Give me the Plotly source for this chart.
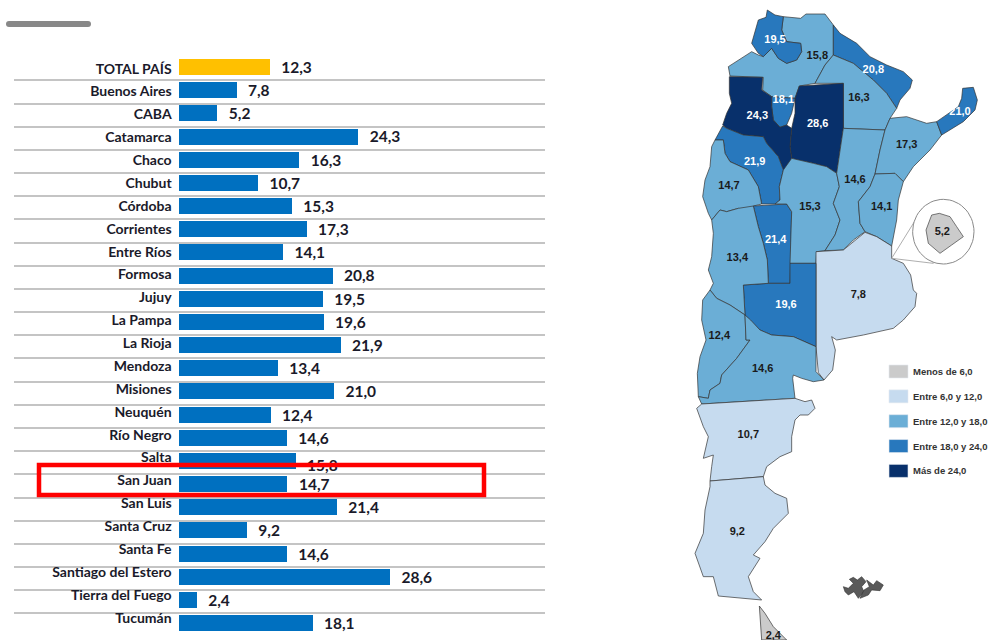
import math
import plotly.graph_objects as go

# ---------- chart data ----------
provinces = ["TOTAL PAÍS", "Buenos Aires", "CABA", "Catamarca", "Chaco", "Chubut", "Córdoba",
             "Corrientes", "Entre Ríos", "Formosa", "Jujuy", "La Pampa", "La Rioja", "Mendoza",
             "Misiones", "Neuquén", "Río Negro", "Salta", "San Juan", "San Luis", "Santa Cruz",
             "Santa Fe", "Santiago del Estero", "Tierra del Fuego", "Tucumán"]
values = [12.3, 7.8, 5.2, 24.3, 16.3, 10.7, 15.3, 17.3, 14.1, 20.8, 19.5, 19.6, 21.9, 13.4,
          21.0, 12.4, 14.6, 15.8, 14.7, 21.4, 9.2, 14.6, 28.6, 2.4, 18.1]
value_nudge = {"Salta": 0.2}

C_TOTAL, C_BAR = "#FFC000", "#0070C0"
C_GREY, C_PALE, C_LIGHT, C_MID, C_DARK = "#CBCBCB", "#C6DBEF", "#6BAED6", "#2878BD", "#08306B"

legend_labels = ["Menos de 6,0", "Entre 6,0 y 12,0", "Entre 12,0 y 18,0", "Entre 18,0 y 24,0", "Más de 24,0"]
legend_colors = [C_GREY, C_PALE, C_LIGHT, C_MID, C_DARK]

# ---------- map outlines (map space, scaled 3x from the canvas) ----------
map_shapes = {
    "Salta": [(310,50),(362,55),(378,42),(435,42),(460,75),(460,165),(435,195),(405,250),(358,258),(345,295),(275,290),(248,270),(250,232),(190,230),(150,228),(145,200),(215,155),(235,165),(250,170),(275,145),(295,175),(320,190),(350,180),(365,155),(362,130),(320,125),(305,90)],
    "Jujuy": [(262,30),(285,45),(310,50),(305,90),(320,125),(362,130),(365,155),(350,180),(320,190),(295,175),(275,145),(250,170),(235,160),(215,130),(235,60),(258,52)],
    "Formosa": [(460,75),(480,100),(530,130),(570,170),(620,195),(670,215),(697,240),(690,265),(660,300),(650,325),(620,280),(580,240),(520,190),(460,165)],
    "Chaco": [(460,165),(520,190),(580,240),(620,280),(650,325),(630,355),(615,390),(490,385),(490,250),(405,250),(435,195)],
    "Santiago del Estero": [(358,258),(490,250),(490,385),(470,520),(440,500),(400,490),(350,480),(335,475),(330,440),(335,385),(345,340),(345,295)],
    "Tucumán": [(275,290),(345,295),(335,340),(320,375),(300,382),(280,360),(275,320)],
    "Catamarca": [(148,230),(248,232),(245,270),(275,290),(275,320),(280,360),(300,382),(320,375),(335,385),(330,440),(335,475),(325,505),(310,510),(295,470),(260,430),(250,410),(190,405),(140,385),(128,375),(140,340),(155,310),(148,280)],
    "La Rioja": [(128,378),(140,385),(190,405),(250,410),(260,430),(295,470),(310,510),(298,560),(300,600),(285,612),(245,612),(235,560),(205,510),(150,485),(135,460),(130,420),(105,420)],
    "San Juan": [(105,420),(130,420),(135,460),(150,485),(205,510),(235,560),(245,612),(220,618),(215,630),(175,625),(140,635),(120,630),(95,660),(85,640),(68,590),(75,540),(90,500),(95,440)],
    "San Luis": [(220,618),(320,612),(335,635),(330,790),(330,850),(265,850),(262,780),(250,730),(235,680)],
    "Córdoba": [(310,510),(335,475),(400,490),(440,500),(470,520),(478,560),(460,610),(480,660),(465,705),(435,752),(410,755),(408,790),(330,790),(335,635),(320,612),(285,612),(300,600),(298,560)],
    "Santa Fe": [(490,385),(615,390),(600,450),(585,522),(570,560),(535,605),(540,670),(555,695),(520,720),(490,750),(435,752),(465,705),(480,660),(460,610),(478,560),(470,520)],
    "Corrientes": [(630,355),(680,350),(740,370),(770,365),(785,405),(750,450),(700,500),(670,545),(645,520),(585,522),(600,450),(615,390)],
    "Misiones": [(848,265),(880,262),(892,300),(885,330),(850,365),(785,405),(770,365),(805,340),(835,320),(845,295)],
    "Entre Ríos": [(585,522),(645,520),(670,545),(655,600),(650,660),(635,738),(590,710),(555,695),(540,670),(535,605),(570,560)],
    "Buenos Aires": [(408,755),(490,750),(555,697),(590,710),(635,738),(635,775),(670,790),(692,825),(700,870),(710,880),(705,920),(670,960),(640,985),(550,1005),(470,1020),(455,1010),(466,1050),(458,1110),(432,1140),(415,1118),(408,1040)],
    "La Pampa": [(190,855),(265,850),(330,850),(330,790),(408,790),(408,1040),(340,1010),(275,1005),(240,990),(212,960),(195,945)],
    "Mendoza": [(95,660),(120,630),(140,635),(175,625),(220,618),(235,680),(250,730),(262,780),(265,850),(190,855),(195,945),(150,915),(110,895),(90,870),(100,850),(85,810),(95,770),(100,700)],
    "Neuquén": [(90,870),(110,895),(150,915),(195,945),(198,1020),(210,1020),(170,1075),(125,1125),(120,1150),(90,1170),(85,1195),(55,1190),(52,1120),(60,1070),(78,1020),(65,960),(68,900)],
    "Río Negro": [(195,945),(212,960),(240,990),(275,1005),(340,1010),(408,1040),(408,1115),(432,1140),(400,1145),(365,1135),(340,1125),(338,1135),(345,1195),(65,1212),(55,1190),(85,1195),(90,1170),(120,1150),(125,1125),(170,1075),(210,1020),(198,1020)],
    "Chubut": [(65,1212),(345,1195),(375,1205),(395,1200),(405,1225),(385,1245),(360,1245),(345,1260),(335,1310),(335,1355),(300,1370),(260,1400),(250,1430),(90,1443),(95,1400),(100,1365),(70,1375),(85,1310),(70,1280),(60,1250),(50,1225)],
    "Santa Cruz": [(90,1443),(250,1430),(255,1455),(285,1480),(320,1495),(325,1540),(280,1585),(255,1625),(220,1665),(240,1675),(205,1730),(220,1775),(245,1800),(115,1788),(100,1730),(70,1730),(45,1660),(70,1600),(75,1530),(90,1460)],
    "Tierra del Fuego": [(238,1818),(255,1840),(280,1880),(320,1920),(245,1920),(240,1860)],
}
province_color = {
    "Salta": C_LIGHT, "Jujuy": C_MID, "Formosa": C_MID, "Chaco": C_LIGHT, "Santiago del Estero": C_DARK,
    "Tucumán": C_MID, "Catamarca": C_DARK, "La Rioja": C_MID, "San Juan": C_LIGHT, "San Luis": C_MID,
    "Córdoba": C_LIGHT, "Santa Fe": C_LIGHT, "Corrientes": C_LIGHT, "Misiones": C_MID, "Entre Ríos": C_LIGHT,
    "Buenos Aires": C_PALE, "La Pampa": C_MID, "Mendoza": C_LIGHT, "Neuquén": C_LIGHT, "Río Negro": C_LIGHT,
    "Chubut": C_PALE, "Santa Cruz": C_PALE, "Tierra del Fuego": C_GREY,
}
caba_outline = [(778,640),(810,650),(830,680),(850,710),(815,735),(780,760),(745,730),(738,690),(755,645)]
inset_wedge = [(728,625),(635,775),(760,790)]
malvinas_west = [(490,1760),(505,1765),(520,1750),(508,1738),(520,1732),(532,1740),(545,1730),(558,1745),(545,1760),(552,1775),(535,1795),(522,1775),(505,1785),(495,1775)]
malvinas_east = [(560,1740),(580,1755),(590,1742),(610,1755),(600,1772),(575,1770),(565,1785),(540,1795),(552,1770),(568,1760)]

map_labels = [("19,5",285,120,"w"),("15,8",412,170,"k"),("20,8",580,210,"w"),("18,1",310,302,"w"),("16,3",537,295,"k"),
              ("21,0",840,338,"w"),("24,3",232,350,"w"),("28,6",413,373,"w"),("17,3",680,437,"k"),("21,9",224,487,"w"),
              ("14,7",147,560,"k"),("14,6",525,542,"k"),("15,3",390,623,"k"),("14,1",605,623,"k"),("5,2",787,698,"k"),
              ("21,4",287,720,"w"),("13,4",172,775,"k"),("7,8",535,887,"k"),("19,6",318,915,"w"),("12,4",118,1010,"k"),
              ("14,6",248,1107,"k"),("10,7",205,1305,"k"),("9,2",172,1597,"k"),("2,4",280,1908,"k")]

# ---------- canvas geometry ----------
W, H = 992, 640
PX_PER_UNIT = 7.38
BAR_X0, GRID_L, GRID_R = 179, 14, 545
ROW0, ROW_STEP = 67.0, 23.17
LBL0, LBL_STEP = 70.0, 22.875
VALUE_GAP = 1.55

def to_canvas(pts):
    xs = [680 + p[0] / 3 for p in pts]
    ys = [p[1] / 3 for p in pts]
    return xs + xs[:1], ys + ys[:1]

fig = go.Figure()

# Bars on their own value axis
n = len(provinces)
fig.add_trace(go.Bar(
    y=list(range(n)), x=values, orientation="h", width=16 / ROW_STEP,
    marker=dict(color=[C_TOTAL] + [C_BAR] * (n - 1), line=dict(width=0)),
    hoverinfo="skip", showlegend=False))

# Value labels
fig.add_trace(go.Scatter(
    x=[v + VALUE_GAP for v in values], y=[i + 0.09 + value_nudge.get(p, 0) for i, p in enumerate(provinces)], mode="text",
    text=[f"{v:.1f}".replace(".", ",") for v in values], textposition="middle right",
    textfont=dict(family="Lato", size=15.5, color="#1A1A2A", weight=700),
    hoverinfo="skip", showlegend=False, cliponaxis=False))

# Category labels, on a slightly tighter axis than the bars
fig.add_trace(go.Scatter(
    x=[-1.0] * n, y=list(range(n)), yaxis="y3", mode="text", text=provinces,
    textposition="middle left",
    textfont=dict(family="Lato", size=14, color="#1A1A2A", weight=700),
    hoverinfo="skip", showlegend=False, cliponaxis=False))

def poly(pts, fill, line="#333333", lw=0.7):
    xs, ys = to_canvas(pts)
    fig.add_trace(go.Scatter(x=xs, y=ys, xaxis="x2", yaxis="y2", mode="lines", fill="toself",
                             fillcolor=fill, line=dict(color=line, width=lw),
                             hoverinfo="skip", showlegend=False))

for name, pts in map_shapes.items():
    poly(pts, province_color[name])

# CABA inset
poly(inset_wedge, "#FFFFFF", "#999999", 0.8)
inset_circle = [(790 + 92 * math.cos(math.radians(a)), 695 + 97 * math.sin(math.radians(a))) for a in range(0, 360, 6)]
poly(inset_circle, "#FFFFFF", "#8A8A8A", 1)
poly(caba_outline, C_GREY, "#444444", 0.7)

poly(malvinas_west, "#5A5A5A", "#333333", 0.6)
poly(malvinas_east, "#5A5A5A", "#333333", 0.6)

# Map labels
for col, tone in (("#FFFFFF", "w"), ("#1A1A1A", "k")):
    sel = [m for m in map_labels if m[3] == tone]
    fig.add_trace(go.Scatter(
        x=[680 + m[1] / 3 for m in sel], y=[m[2] / 3 for m in sel], xaxis="x2", yaxis="y2",
        mode="text", text=[m[0] for m in sel], textposition="middle center",
        textfont=dict(family="Liberation Sans", size=11, color=col, weight=700),
        hoverinfo="skip", showlegend=False, cliponaxis=True))

# Map legend
for i, (lab, col) in enumerate(zip(legend_labels, legend_colors)):
    yc = 371.5 + i * 24.85
    fig.add_shape(type="rect", xref="x2", yref="y2", x0=889, x1=908, y0=yc-6.5, y1=yc+6.5,
                  fillcolor=col, line=dict(color="#E4E9F0", width=0.6), layer="above")
    fig.add_annotation(xref="x2", yref="y2", x=911, y=yc, text=f"<b>{lab}</b>", showarrow=False,
                       xanchor="left", yanchor="middle",
                       font=dict(family="Liberation Sans", size=9.5, color="#333333"))

# Grey pill at the top-left and the red highlight box
fig.add_shape(type="path", xref="x2", yref="y2", layer="above",
              path="M 9 21 L 88 21 Q 91 21 91 24 Q 91 27 88 27 L 9 27 Q 6 27 6 24 Q 6 21 9 21 Z",
              fillcolor="#888888", line=dict(width=0))
fig.add_shape(type="path", xref="x2", yref="y2", layer="above",
              path="M 39 465 L 484 465 L 484 495 L 39 495 Z",
              line=dict(color="#FF0000", width=4.5), fillcolor="rgba(0,0,0,0)")

grid_rows = [i + 0.58 for i in range(n - 1)]
fig.update_layout(
    width=W, height=H, margin=dict(l=0, r=0, t=0, b=0), paper_bgcolor="#FFFFFF", plot_bgcolor="rgba(0,0,0,0)",
    bargap=0, showlegend=False,
    xaxis=dict(domain=[GRID_L / W, GRID_R / W],
               range=[-(BAR_X0 - GRID_L) / PX_PER_UNIT, (GRID_R - BAR_X0) / PX_PER_UNIT],
               visible=False, fixedrange=True),
    yaxis=dict(domain=[0, 1], range=[(H - ROW0) / ROW_STEP, -ROW0 / ROW_STEP],
               tickvals=grid_rows, showticklabels=False, ticks="", showgrid=True,
               gridcolor="#C4C4C4", gridwidth=1.6, zeroline=False, showline=False, fixedrange=True),
    yaxis3=dict(domain=[0, 1], overlaying="y", range=[(H - LBL0) / LBL_STEP, -LBL0 / LBL_STEP],
                visible=False, fixedrange=True),
    xaxis2=dict(domain=[0, 1], range=[0, W], visible=False, fixedrange=True, anchor="y2"),
    yaxis2=dict(domain=[0, 1], range=[H, 0], visible=False, fixedrange=True, anchor="x2"),
)

fig.write_html("out.html", config=dict(displayModeBar=False), post_script="document.body.style.margin='0';")
